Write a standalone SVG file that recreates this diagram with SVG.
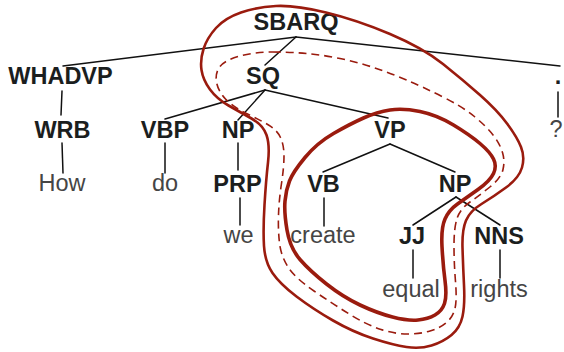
<svg xmlns="http://www.w3.org/2000/svg" width="564" height="352" viewBox="0 0 564 352">
<style>
.lbl{font-family:"Liberation Sans",Arial,sans-serif;font-size:23.5px;font-weight:bold;fill:#1b1e1e;text-anchor:middle}
.leaf{font-family:"Liberation Sans",Arial,sans-serif;font-size:23.5px;fill:#454545;text-anchor:middle}
.edge{stroke:#111;stroke-width:1.5;fill:none;stroke-linecap:round}
.loop{fill:none;stroke:#9a1b0e;stroke-linejoin:round}
</style>
<rect width="564" height="352" fill="#fff"/>
<g id="connectors">
<line class="edge" x1="296" y1="37" x2="63" y2="66"/>
<line class="edge" x1="296" y1="37" x2="265" y2="65"/>
<line class="edge" x1="296" y1="37" x2="560" y2="66"/>
<line class="edge" x1="62" y1="91" x2="61" y2="115"/>
<line class="edge" x1="265" y1="90" x2="165" y2="119"/>
<line class="edge" x1="265" y1="90" x2="238" y2="120"/>
<line class="edge" x1="265" y1="90" x2="388" y2="118"/>
<line class="edge" x1="558" y1="92" x2="558" y2="117"/>
<line class="edge" x1="62" y1="143" x2="63" y2="173"/>
<line class="edge" x1="165" y1="143" x2="165" y2="173"/>
<line class="edge" x1="238" y1="143" x2="238" y2="170"/>
<line class="edge" x1="390" y1="144" x2="323" y2="172"/>
<line class="edge" x1="390" y1="144" x2="455" y2="172"/>
<line class="edge" x1="240" y1="198" x2="240" y2="225"/>
<line class="edge" x1="324" y1="198" x2="324" y2="226"/>
<line class="edge" x1="456" y1="197" x2="413" y2="225"/>
<line class="edge" x1="456" y1="197" x2="500" y2="225"/>
<line class="edge" x1="413" y1="250" x2="413" y2="278"/>
<line class="edge" x1="500" y1="250" x2="500" y2="278"/>
</g>
<g id="n-SBARQ"><text class="lbl" x="296" y="30">SBARQ</text></g>
<g id="n-WHADVP"><text class="lbl" x="60.5" y="84">WHADVP</text></g>
<g id="n-SQ"><text class="lbl" x="263" y="83.5">SQ</text></g>
<g id="n-dot"><text class="lbl" x="558" y="84">.</text></g>
<g id="n-WRB"><text class="lbl" x="62.5" y="138">WRB</text></g>
<g id="n-VBP"><text class="lbl" x="165" y="138">VBP</text></g>
<g id="n-NP1"><text class="lbl" x="238" y="138">NP</text></g>
<g id="n-VP"><text class="lbl" x="390" y="138">VP</text></g>
<g id="n-q"><text class="leaf" x="556" y="137">?</text></g>
<g id="n-How"><text class="leaf" x="62" y="191">How</text></g>
<g id="n-do"><text class="leaf" x="165" y="191">do</text></g>
<g id="n-PRP"><text class="lbl" x="237.5" y="192">PRP</text></g>
<g id="n-VB"><text class="lbl" x="323.5" y="192">VB</text></g>
<g id="n-NP2"><text class="lbl" x="455" y="192">NP</text></g>
<g id="n-we"><text class="leaf" x="238.5" y="243">we</text></g>
<g id="n-create"><text class="leaf" x="323" y="243">create</text></g>
<g id="n-JJ"><text class="lbl" x="412" y="244">JJ</text></g>
<g id="n-NNS"><text class="lbl" x="499" y="244">NNS</text></g>
<g id="n-equal"><text class="leaf" x="411" y="297">equal</text></g>
<g id="n-rights"><text class="leaf" x="499" y="297">rights</text></g>
<g id="loops">
<path class="loop" stroke-width="2.6" d="M276,6 Q295,5 326,12.5 Q357,20 390,34 Q423,48 443,64 Q463,80 480,95 Q497,110 507,123.5 Q517,137 521,147 Q525,157 522,167.5 Q519,178 506,187.5 Q493,197 481.5,204 Q470,211 466,220.5 Q462,230 462.5,247.5 Q463,265 464,285 Q465,305 462.5,316.5 Q460,328 451.5,335 Q443,342 431.5,345.5 Q420,349 406.5,347 Q393,345 373,338.5 Q353,332 333,320.5 Q313,309 296.5,296.5 Q280,284 272.5,273 Q265,262 264,246 Q263,230 264.5,205 Q266,180 268,162.5 Q270,145 266.5,135 Q263,125 251.5,118.5 Q240,112 228.5,105.5 Q217,99 210,89.5 Q203,80 201.5,70 Q200,60 203.5,49 Q207,38 216,28 Q225,18 241,12.5 Q257,7 276,6 Z"/>
<path class="loop" stroke-width="1.6" stroke-dasharray="8,5" d="M272.5,52 Q290,52 306.5,53.5 Q323,55 340,58.5 Q357,62 373.5,67.5 Q390,73 406.5,80 Q423,87 443,97 Q463,107 475,117 Q487,127 493.5,135.5 Q500,144 502.5,152.5 Q505,161 503,169.5 Q501,178 490.5,186.5 Q480,195 470,202 Q460,209 457,218.5 Q454,228 454,245.5 Q454,263 455.5,281.5 Q457,300 455,308.5 Q453,317 446.5,322.5 Q440,328 430,331 Q420,334 407.5,334 Q395,334 381,329.5 Q367,325 350,314.5 Q333,304 314,291 Q295,278 288,267 Q281,256 279.5,243 Q278,230 278.5,215 Q279,200 281.5,183.5 Q284,167 284,156 Q284,145 280.5,137.5 Q277,130 268.5,125 Q260,120 246.5,113.5 Q233,107 225.5,99 Q218,91 216.5,82 Q215,73 220,66.5 Q225,60 240,56 Q255,52 272.5,52 Z"/>
<path class="loop" stroke-width="3.6" d="M390,110 Q403,108 420,111.5 Q437,115 453.5,125 Q470,135 480,143.5 Q490,152 493.5,159 Q497,166 493.5,173.5 Q490,181 478,189.5 Q466,198 457.5,204 Q449,210 445,219 Q441,228 442,246.5 Q443,265 445,280.5 Q447,296 444.5,303.5 Q442,311 435,315 Q428,319 418,320 Q408,321 392.5,317 Q377,313 360,305 Q343,297 326.5,284 Q310,271 300,259.5 Q290,248 287,230 Q284,212 285,201 Q286,190 289.5,181 Q293,172 305,157.5 Q317,143 333.5,133.5 Q350,124 363.5,118 Q377,112 390,110 Z"/>
</g>
</svg>
